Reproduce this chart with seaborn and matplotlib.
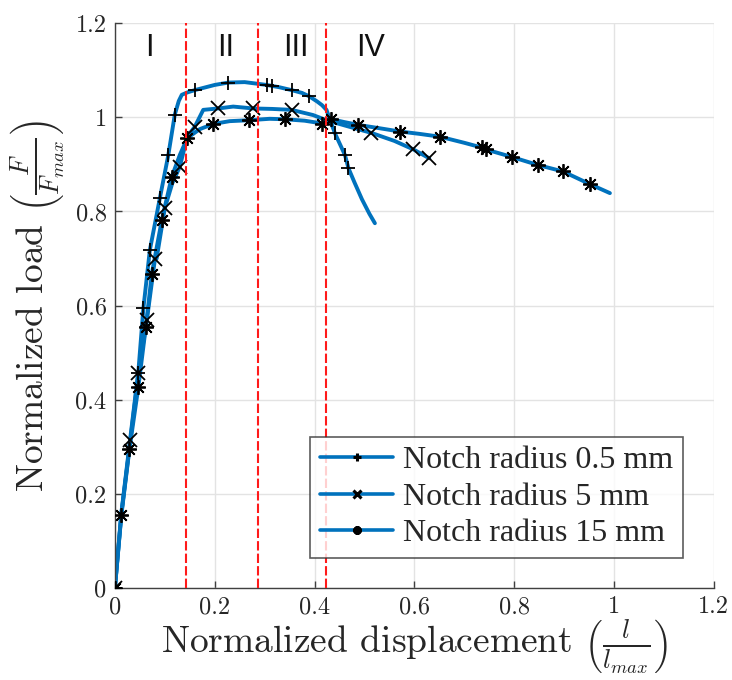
import matplotlib
matplotlib.use("Agg")
import matplotlib.pyplot as plt
from matplotlib.lines import Line2D
import seaborn as sns
import pandas as pd

# ---- data: normalized load-displacement curves ----
r05_x = [0.0, 0.013, 0.031, 0.047, 0.057, 0.070, 0.090, 0.107, 0.120, 0.128, 0.134, 0.145,
         0.160, 0.200, 0.227, 0.260, 0.304, 0.330, 0.354, 0.375, 0.389, 0.405, 0.415, 0.424,
         0.432, 0.441, 0.451, 0.461, 0.468, 0.480, 0.495, 0.510, 0.521]
r05_y = [0.0, 0.160, 0.320, 0.460, 0.594, 0.718, 0.828, 0.920, 1.006, 1.035, 1.048, 1.053,
         1.058, 1.069, 1.074, 1.075, 1.069, 1.064, 1.058, 1.052, 1.045, 1.034, 1.026, 1.016,
         0.992, 0.966, 0.943, 0.920, 0.892, 0.862, 0.826, 0.795, 0.775]
r05_mx = [0.0, 0.047, 0.057, 0.070, 0.090, 0.107, 0.120, 0.160, 0.227, 0.304, 0.314,
          0.354, 0.389, 0.441, 0.461, 0.468]
r05_my = [0.0, 0.456, 0.594, 0.718, 0.828, 0.920, 1.006, 1.058, 1.074, 1.069, 1.066,
          1.058, 1.045, 0.966, 0.920, 0.892]

r5_x = [0.0, 0.013, 0.031, 0.047, 0.064, 0.080, 0.0836, 0.100, 0.115, 0.130, 0.145, 0.160,
        0.177, 0.207, 0.237, 0.277, 0.315, 0.354, 0.397, 0.424, 0.460, 0.514, 0.560, 0.598,
        0.630]
r5_y = [0.0, 0.158, 0.314, 0.456, 0.569, 0.697, 0.700, 0.807, 0.860, 0.895, 0.959, 0.980,
        1.016, 1.019, 1.023, 1.019, 1.018, 1.016, 1.005, 0.994, 0.983, 0.967, 0.950, 0.932,
        0.913]
r5_mx = [0.0, 0.031, 0.047, 0.064, 0.081, 0.100, 0.130, 0.160, 0.207, 0.277, 0.354,
         0.514, 0.598, 0.630]
r5_my = [0.0, 0.314, 0.456, 0.569, 0.699, 0.807, 0.895, 0.980, 1.019, 1.019, 1.016,
         0.967, 0.932, 0.913]

r15_x = [0.0, 0.013, 0.029, 0.047, 0.062, 0.074, 0.094, 0.114, 0.130, 0.145, 0.170, 0.197,
         0.230, 0.269, 0.310, 0.341, 0.380, 0.416, 0.434, 0.460, 0.488, 0.530, 0.571, 0.610,
         0.651, 0.700, 0.735, 0.743, 0.795, 0.847, 0.898, 0.952, 0.992]
r15_y = [0.0, 0.155, 0.294, 0.427, 0.555, 0.668, 0.782, 0.874, 0.920, 0.956, 0.975, 0.986,
         0.992, 0.994, 0.997, 0.996, 0.993, 0.987, 0.996, 0.990, 0.984, 0.977, 0.970, 0.965,
         0.959, 0.946, 0.936, 0.932, 0.916, 0.899, 0.885, 0.858, 0.839]
r15_mx = [0.0, 0.013, 0.029, 0.047, 0.062, 0.074, 0.094, 0.114, 0.145, 0.197, 0.269,
          0.341, 0.416, 0.434, 0.488, 0.571, 0.651, 0.735, 0.743, 0.795, 0.847, 0.898, 0.952]
r15_my = [0.0, 0.155, 0.294, 0.427, 0.555, 0.668, 0.782, 0.874, 0.956, 0.986, 0.994,
          0.996, 0.987, 0.996, 0.984, 0.970, 0.959, 0.936, 0.932, 0.916, 0.899, 0.885, 0.858]

labels = ["Notch radius 0.5 mm", "Notch radius 5 mm", "Notch radius 15 mm"]
stage_bounds = [0.143, 0.287, 0.423]
stage_names = ["I", "II", "III", "IV"]
stage_pos = [0.069, 0.222, 0.363, 0.513]
tick_vals = [0, 0.2, 0.4, 0.6, 0.8, 1.0, 1.2]
tick_labels = ["0", "0.2", "0.4", "0.6", "0.8", "1", "1.2"]

# ---- style ----
sns.set_style("ticks")
plt.rcParams["font.family"] = ["Liberation Serif", "DejaVu Serif"]
plt.rcParams["mathtext.fontset"] = "cm"

BLUE = "#0072BD"
ASTER = (8, 2, 0)
markers = ["+", "x", ASTER]

fig = plt.figure(figsize=(7.32, 6.8), dpi=100)
ax = fig.add_axes([0.157, 0.1357, 0.818, 0.83])

curves = [(r05_x, r05_y, r05_mx, r05_my),
          (r5_x, r5_y, r5_mx, r5_my),
          (r15_x, r15_y, r15_mx, r15_my)]

for (cx, cy, mx, my), lab, mk in zip(curves, labels, markers):
    df = pd.DataFrame({"x": cx, "y": cy})
    sns.lineplot(data=df, x="x", y="y", sort=False, estimator=None, ax=ax,
                 color=BLUE, linewidth=2.8, zorder=2)
for (cx, cy, mx, my), mk in zip(curves, markers):
    ax.plot(mx, my, linestyle="none", marker=mk, markersize=10.5,
            markeredgewidth=1.3, color="black", zorder=3)

for xb in stage_bounds:
    ax.axvline(xb, color="#FF1A1A", linewidth=1.5, dashes=(4.5, 1.5), zorder=4)

for name, xp in zip(stage_names, stage_pos):
    ax.text(xp, 1.147, name, ha="center", va="center", fontsize=22,
            family=["Liberation Sans", "DejaVu Sans"], color="#111111")

ax.set_xlim(0, 1.2)
ax.set_ylim(0, 1.2)
ax.set_xticks(tick_vals)
ax.set_xticklabels(tick_labels)
ax.set_yticks(tick_vals)
ax.set_yticklabels(tick_labels)
for t in ax.get_xticklabels() + ax.get_yticklabels():
    t.set_family("cmr10")
    t.set_fontsize(17.5)
ax.tick_params(direction="in", length=5, width=1, color="#404040", pad=6)
ax.grid(True, color="#e3e3e3", linewidth=1.0)
ax.set_axisbelow(True)
for side in ["top", "right"]:
    ax.spines[side].set_visible(False)
for side in ["left", "bottom"]:
    ax.spines[side].set_color("#404040")
    ax.spines[side].set_linewidth(1.0)

ax.set_xlabel(r"Normalized displacement $\left(\frac{l}{l_{max}}\right)$",
              family="cmr10", fontsize=27, labelpad=0)
ax.set_ylabel(r"Normalized load $\left(\frac{F}{F_{max}}\right)$",
              family="cmr10", fontsize=27, labelpad=6)

handles = [Line2D([0], [0], color=BLUE, linewidth=2.6, marker=m, markersize=6,
                  markeredgewidth=2.2, markerfacecolor="black", markeredgecolor="black")
           for m in markers]
leg = ax.legend(handles, labels, loc="lower right", bbox_to_anchor=(0.948, 0.053),
                fontsize=23, frameon=True, fancybox=False, handlelength=2.3,
                handletextpad=0.3, borderpad=0.3, labelspacing=0.22,
                borderaxespad=0)
leg.get_frame().set_edgecolor("#333333")
leg.get_frame().set_linewidth(1.2)

fig.savefig("out.png", dpi=100)
